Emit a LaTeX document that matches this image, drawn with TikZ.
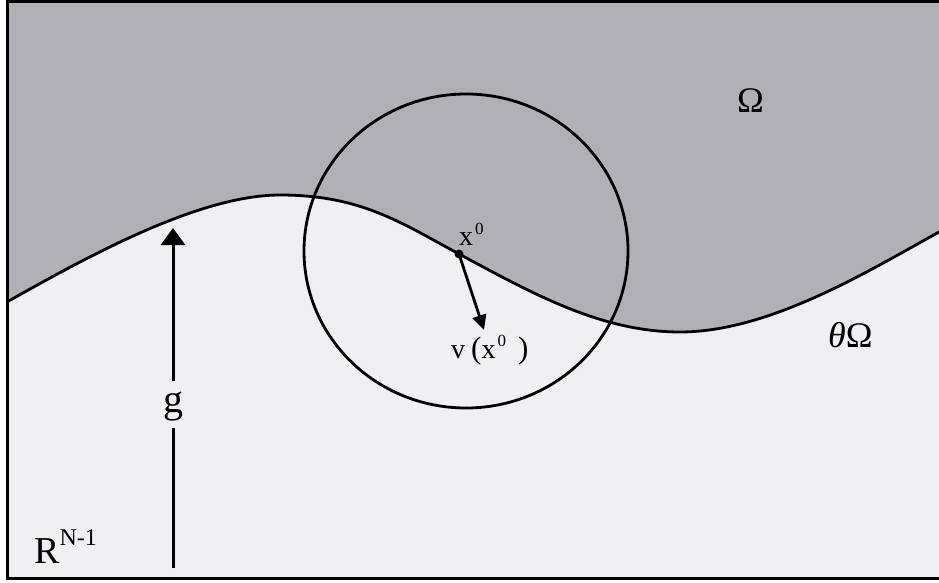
\documentclass[tikz,border=0pt]{standalone}
\usepackage{fontspec}
\setmainfont{Liberation Serif}
\usetikzlibrary{arrows.meta}
\definecolor{upgray}{RGB}{177,176,180}
\definecolor{lowbg}{RGB}{240,240,243}
\tikzset{
  lbl/.style={inner sep=0pt, anchor=base west},
  thickline/.style={line width=2.8pt, black},
  gtip/.style={-{Triangle[length=17pt,width=24pt]}},
  vtip/.style={-{Triangle[length=15pt,width=14pt]}},
}
\newcommand{\supz}[1]{\raisebox{#1}{\fontsize{17}{17}\selectfont 0}}
\begin{document}
\begin{tikzpicture}[x=1pt,y=-1pt]
\useasboundingbox (0,0) rectangle (939,583);
\fill[white] (0,0) rectangle (939,583);
\fill[lowbg] (7,1) rectangle (939,579);
% upper region
\fill[upgray] (7,302) .. controls (90,255) and (200,195) .. (280,195)
  .. controls (360,195) and (400,222) .. (459,254)
  .. controls (530,292) and (600,332) .. (680,332)
  .. controls (770,332) and (870,270) .. (939,232)
  -- (939,1) -- (7,1) -- cycle;
% boundary curve
\draw[thickline] (7,302) .. controls (90,255) and (200,195) .. (280,195)
  .. controls (360,195) and (400,222) .. (459,254)
  .. controls (530,292) and (600,332) .. (680,332)
  .. controls (770,332) and (870,270) .. (939,232);
% frame
\draw[line width=3pt] (939,1.5) -- (7.5,1.5) -- (7.5,578.5) -- (939,578.5);
% ball
\draw[thickline] (466,251) ellipse [x radius=162pt, y radius=157pt];
% point and normal
\node[circle, fill=black, inner sep=0pt, minimum size=9pt] (x0) at (459,254) {};
\coordinate (vend) at (484,330);
\draw[line width=2.8pt, vtip] (x0.center) -- (vend);
\node[lbl, font=\fontsize{28}{28}\selectfont] (x0lbl) at (459,245) {x\hspace{2pt}\supz{11pt}};
\node[lbl, font=\fontsize{28}{28}\selectfont] (vlbl) at (451,358)
  {v\hspace{6pt}{\fontsize{31}{31}\selectfont(}x\hspace{2pt}\supz{12pt}\hspace{12pt}{\fontsize{31}{31}\selectfont)}};
% g arrow
\coordinate (gbot) at (173,568);
\coordinate (gtop) at (173,228);
\node[font=\fontsize{40}{40}\selectfont, inner sep=0pt, anchor=base] (g) at (173,412) {g};
\draw[line width=3pt] (gbot) -- ([yshift=-7pt]g.south);
\draw[line width=3pt, gtip] ([yshift=10pt]g.north) -- (gtop);
% labels
\node[lbl, font=\fontsize{36}{36}\selectfont] (omega) at (737,113) {Ω};
\node[lbl, font=\fontsize{36}{36}\selectfont] (domega) at (828,347) {\itshape θ\upshape Ω};
\node[lbl, font=\fontsize{38}{38}\selectfont] (rn) at (34,563) {R\raisebox{18pt}{\fontsize{24}{24}\selectfont N-1}};
\end{tikzpicture}
\end{document}
